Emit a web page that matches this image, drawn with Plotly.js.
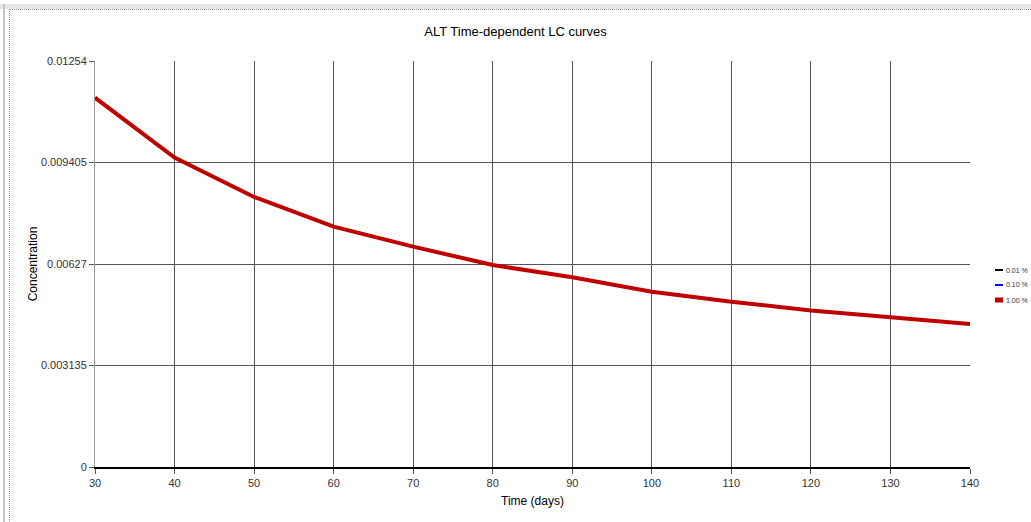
<!DOCTYPE html>
<html>
<head>
<meta charset="utf-8">
<script src="https://cdn.plot.ly/plotly-3.0.1.min.js"></script>
<style>
html,body{margin:0;padding:0;background:#fff;width:1031px;height:522px;overflow:hidden;}
#topband{position:absolute;left:0;top:4px;width:1031px;height:5px;background:#e6e6e6;}
#leftline{position:absolute;left:3px;top:4px;width:2px;height:518px;background:#c8c8c8;}
#frame{position:absolute;left:9px;top:9px;width:1022px;height:513px;border-left:1px dotted #999;border-top:1px dotted #999;box-sizing:border-box;}
#chart{position:absolute;left:0;top:0;width:1031px;height:522px;}
</style>
</head>
<body>
<div id="topband"></div>
<div id="leftline"></div>
<div id="frame"></div>
<div id="chart"></div>
<script>
const days = [30, 40, 50, 60, 70, 80, 90, 100, 110, 120, 130, 140];
const lc001 = [0.011407, 0.009560, 0.008340, 0.007422, 0.006805, 0.006239, 0.005859, 0.005415, 0.005106, 0.004834, 0.004624, 0.004417];
const lc010 = [0.011407, 0.009560, 0.008340, 0.007422, 0.006805, 0.006239, 0.005859, 0.005415, 0.005106, 0.004834, 0.004624, 0.004417];
const lc100 = [0.011407, 0.009560, 0.008340, 0.007422, 0.006805, 0.006239, 0.005859, 0.005415, 0.005106, 0.004834, 0.004624, 0.004417];
const seriesNames = ["0.01 %", "0.10 %", "1.00 %"];
const yTicks = [0, 0.003135, 0.00627, 0.009405, 0.01254];
const yTickLabels = ["0", "0.003135", "0.00627", "0.009405", "0.01254"];
const xTicks = [30, 40, 50, 60, 70, 80, 90, 100, 110, 120, 130, 140];

const colors = ["#000000", "#0000ff", "#c00000"];
const widths = [2, 2, 4];
const seriesData = [lc001, lc010, lc100];

const traces = seriesData.map((ys, i) => ({
  x: days, y: ys, type: "scatter", mode: "lines", name: seriesNames[i],
  line: {color: colors[i], width: widths[i]}, showlegend: false
}));

const shapes = [];
const annotations = [];
const legY = [0.4852, 0.4483, 0.4113];
seriesNames.forEach((n, i) => {
  shapes.push({type: "line", xref: "paper", yref: "paper", x0: 1.0286, x1: 1.0377, y0: legY[i], y1: legY[i],
    line: {color: colors[i], width: i === 2 ? 5 : 2}});
  annotations.push({xref: "paper", yref: "paper", x: 1.0400, y: legY[i], xanchor: "left", yanchor: "middle",
    text: n, showarrow: false, borderpad: 0,
    font: {family: "Liberation Sans, Arial, sans-serif", size: 7, color: "#333"}});
});

const layout = {
  width: 1031, height: 522,
  paper_bgcolor: "rgba(0,0,0,0)", plot_bgcolor: "#fff",
  margin: {l: 95, r: 61, t: 61, b: 55},
  title: {text: "ALT Time-dependent LC curves", x: 0.5, xanchor: "center", y: 0.94, yanchor: "middle",
    font: {family: "Liberation Sans, Arial, sans-serif", size: 13, color: "#000"}},
  font: {family: "Liberation Sans, Arial, sans-serif", size: 11, color: "#333"},
  xaxis: {
    range: [30, 140], tickvals: xTicks, ticktext: xTicks.map(String),
    showgrid: true, gridcolor: "#555", gridwidth: 1,
    showline: true, linecolor: "#000", linewidth: 2, mirror: false,
    ticks: "outside", ticklen: 5, tickcolor: "#555",
    zeroline: false,
    title: {text: "Time (days)", font: {size: 12, color: "#000"}, standoff: 8},
    tickfont: {size: 11, color: "#333"}
  },
  yaxis: {
    range: [0, 0.01254], tickvals: yTicks, ticktext: yTickLabels,
    showgrid: true, gridcolor: "#555", gridwidth: 1,
    showline: true, linecolor: "#999", linewidth: 1,
    ticks: "outside", ticklen: 5, tickcolor: "#555",
    zeroline: false,
    title: {text: "Concentration", font: {size: 12, color: "#000"}, standoff: 0},
    tickfont: {size: 11, color: "#333"}
  },
  shapes: shapes,
  annotations: annotations
};

Plotly.newPlot("chart", traces, layout, {displayModeBar: false, staticPlot: true});
</script>
</body>
</html>
